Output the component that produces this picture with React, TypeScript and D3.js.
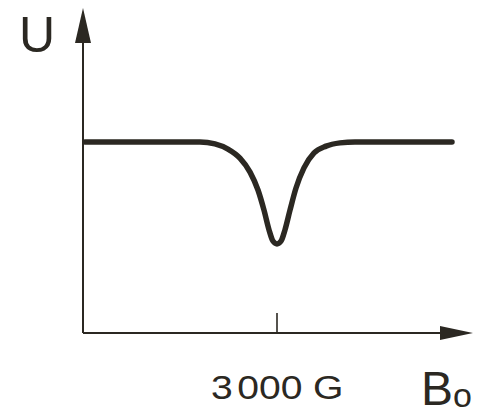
import React, { useEffect, useRef } from 'react';
import * as d3 from 'd3';

// field B0 in gauss
const fieldG = [2010, 2345, 2603, 2680, 2747, 2809, 2861, 2902, 2933, 2959, 2979, 3000, 3021, 3041, 3067, 3098, 3139, 3191, 3253, 3325, 3402, 3634, 3902];
// U in arbitrary units
const signalU = [5.88, 5.88, 5.88, 5.82, 5.66, 5.38, 4.95, 4.4, 3.78, 3.17, 2.83, 2.74, 2.83, 3.17, 3.78, 4.46, 5.08, 5.54, 5.75, 5.85, 5.88, 5.88, 5.88];
const xTicks = [3000];
const xTickLabelParts = ['3', '000', 'G'];

const ink = '#2b2822';

const App = () => {
  const svgRef = useRef<SVGSVGElement | null>(null);

  useEffect(() => {
    const svg = d3.select(svgRef.current);
    svg.selectAll('*').remove();

    const x0 = 83;
    const y0 = 333;
    const x = d3.scaleLinear().domain([2000, 4000]).range([x0, 471]);
    const y = d3.scaleLinear().domain([0, 10]).range([y0, 8]);

    // axes
    svg.append('line')
      .attr('x1', x0).attr('x2', x0)
      .attr('y1', y0).attr('y2', 30)
      .attr('stroke', ink).attr('stroke-width', 2);
    svg.append('path')
      .attr('d', `M${x0},8 L${x0 + 8},43 L${x0 - 8},43 Z`)
      .attr('fill', ink);

    svg.append('line')
      .attr('x1', x0).attr('x2', 455)
      .attr('y1', y0).attr('y2', y0)
      .attr('stroke', ink).attr('stroke-width', 2);
    svg.append('path')
      .attr('d', `M473,${y0} L440,${y0 - 7} L440,${y0 + 7} Z`)
      .attr('fill', ink);

    svg.selectAll('.tick')
      .data(xTicks)
      .enter()
      .append('line')
      .attr('x1', (d) => x(d)).attr('x2', (d) => x(d))
      .attr('y1', y0 - 20).attr('y2', y0)
      .attr('stroke', ink).attr('stroke-width', 1.6);

    // curve
    const pts: [number, number][] = fieldG.map((b, i) => [b, signalU[i]]);
    const line = d3.line<[number, number]>()
      .x((d) => x(d[0]))
      .y((d) => y(d[1]))
      .curve(d3.curveMonotoneX);
    svg.append('path')
      .attr('d', line(pts))
      .attr('fill', 'none')
      .attr('stroke', ink)
      .attr('stroke-width', 5.5)
      .attr('stroke-linecap', 'round')
      .attr('stroke-linejoin', 'round');

    const font = '"Liberation Sans", Arial, sans-serif';

    svg.append('text')
      .attr('x', 19).attr('y', 52)
      .attr('font-family', font).attr('font-size', 50)
      .attr('fill', ink)
      .text('U');

    // tick label, glyphs a bit wider than Liberation Sans
    const lbl = svg.append('text')
      .attr('transform', 'translate(211,399) scale(1.15,1)')
      .attr('font-family', font).attr('font-size', 34)
      .attr('fill', ink);
    lbl.selectAll('tspan')
      .data(xTickLabelParts)
      .enter()
      .append('tspan')
      .attr('dx', (d, i) => (i === 0 ? 0 : i === 1 ? 4 : 9))
      .text((d) => d);

    const b = svg.append('text')
      .attr('x', 421).attr('y', 405)
      .attr('font-family', font).attr('font-size', 48)
      .attr('fill', ink);
    b.append('tspan').text('B');
    b.append('tspan').attr('font-size', 34).attr('dy', 2).text('o');
  }, []);

  return (
    <svg
      ref={svgRef}
      width={488}
      height={416}
      style={{ position: 'absolute', left: 0, top: 0, background: '#fff' }}
    />
  );
};

export default App;
